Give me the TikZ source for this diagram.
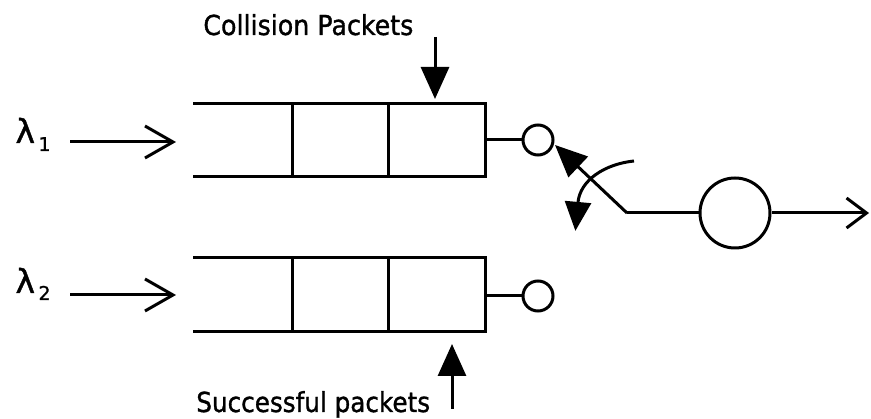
\documentclass[tikz,border=0pt]{standalone}
\usepackage{fontspec}
\setmainfont{DejaVu Sans}
\newfontfamily\heavyfont[FakeBold=1.2]{DejaVu Sans}
\usetikzlibrary{arrows.meta}
\begin{document}
\begin{tikzpicture}[x=1pt,y=-1pt, line width=3pt,
  openhead/.style={-{Straight Barb[length=28pt,width=32pt]}},
  solidhead/.style={-{Triangle[length=32pt,width=28pt]}},
  lbl/.style={font=\heavyfont\fontsize{27.5}{28}\selectfont, inner sep=0, anchor=base west, xscale=0.92},
  lam/.style={font=\heavyfont\fontsize{33}{33}\selectfont, inner sep=0, anchor=base west},
  sub/.style={font=\heavyfont\fontsize{19}{19}\selectfont, inner sep=0, anchor=base west},
  smallsrv/.style={circle, draw, minimum size=30pt, inner sep=0},
  bigsrv/.style={circle, draw, minimum size=70pt, inner sep=0},
]
\useasboundingbox (0,0) rectangle (871,419);
% queue 1 (open on the left)
\draw (193,104) -- (485,104) -- (485,177) -- (193,177);
\draw (292,104) -- (292,177) (388,104) -- (388,177);
% queue 2
\draw (193,258) -- (485,258) -- (485,332) -- (193,332);
\draw (292,258) -- (292,332) (388,258) -- (388,332);
\coordinate (q1) at (485,140);
\coordinate (q2) at (485,296);
% servers
\node[smallsrv] (s1) at (538,140) {};
\node[smallsrv] (s2) at (538,296) {};
\node[bigsrv] (srv) at (735,213) {};
\draw (q1) -- (s1);
\draw (q2) -- (s2);
% switch
\coordinate (pivot) at (627,213);
\coordinate (swtip) at (555,145);
\draw[solidhead] (pivot) -- (swtip);
\draw (pivot) -- (srv);
\coordinate (cs) at (634,161);
\coordinate (ce) at (578,202);
\draw[-{Triangle[length=29pt,width=26pt]}, shorten >=-29pt] (cs) .. controls (605,164) and (580,180) .. (ce);
% output
\coordinate (out) at (869,213);
\draw[-{Straight Barb[length=20pt,width=30pt]}] (srv) -- (out);
% inputs
\coordinate (a1s) at (70,142);
\coordinate (a1e) at (176,142);
\coordinate (a2s) at (70,295);
\coordinate (a2e) at (176,295);
\draw[openhead] (a1s) -- (a1e);
\draw[openhead] (a2s) -- (a2e);
\node[lam] (l1) at (14,143) {λ};
\node[sub] (l1s) at (37,151) {1};
\node[lam] (l2) at (14,293) {λ};
\node[sub] (l2s) at (37,300) {2};
% collision packets
\node[lbl] (cp) at (202,35) {Collision Packets};
\coordinate (c1s) at (435,37);
\coordinate (c1e) at (435,99);
\draw[solidhead] (c1s) -- (c1e);
% successful packets
\node[lbl, xscale=0.975] (sp) at (195,412) {Successful packets};
\coordinate (s1s) at (452,409);
\coordinate (s1e) at (452,344);
\draw[solidhead] (s1s) -- (s1e);
\end{tikzpicture}
\end{document}
